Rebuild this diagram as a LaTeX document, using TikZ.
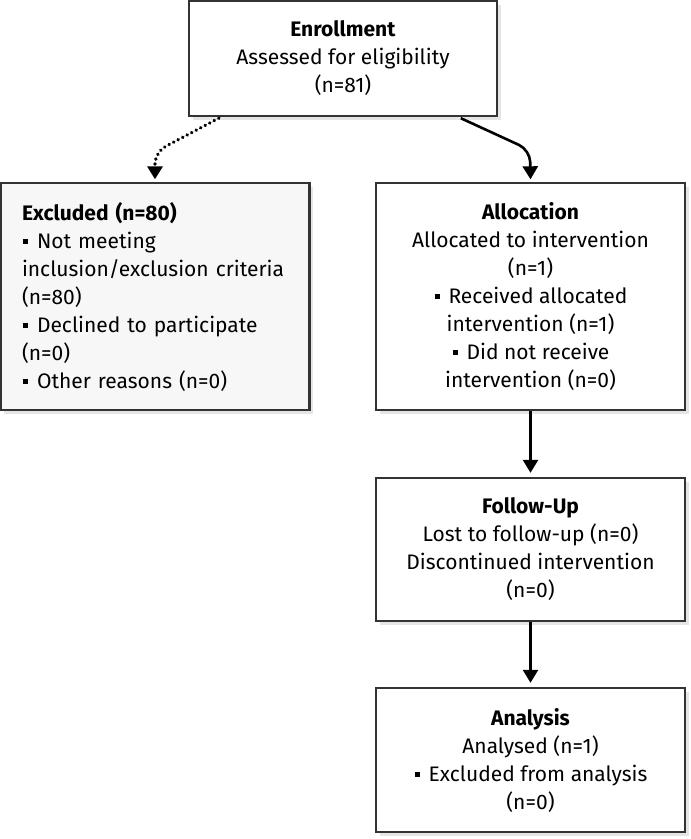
\documentclass[tikz,border=0pt]{standalone}
\usepackage{fontspec}
\setmainfont{Fira Sans}
\usetikzlibrary{arrows.meta,shadows,calc}
\newcommand{\sqbullet}{\hspace{1pt}\rule[4.5pt]{5pt}{5pt}\hspace{9pt}}
\begin{document}
\begin{tikzpicture}[x=1pt,y=-1pt,
  every node/.style={font=\fontsize{21}{28}\selectfont},
  stage/.style={draw=black!80, line width=2.4pt, fill=white, inner sep=0pt,
    align=center, minimum width=309pt,
    drop shadow={shadow xshift=3.5pt, shadow yshift=-3.5pt, fill=black!10, opacity=1}},
  flow/.style={line width=2.6pt, -{Triangle[width=15pt,length=13pt]}, rounded corners=12pt},
  dotflow/.style={flow, line cap=round, dash pattern=on 0.1pt off 5pt, line width=3.6pt}]
\useasboundingbox (0,0) rectangle (691,839);

% boxes
\node[stage, minimum width=308pt, minimum height=115pt] (enr) at (343,58.5)
  {\textbf{Enrollment}\\Assessed for eligibility\\(n=81)};
\node[stage, fill=black!3, minimum height=227pt, text width=266pt, align=left] (exc) at (155,296.5)
  {\textbf{Excluded (n=80)}\\\sqbullet Not meeting\\inclusion/exclusion criteria\\(n=80)\\\sqbullet Declined to participate\\(n=0)\\\sqbullet Other reasons (n=0)};
\node[stage, minimum height=227pt] (alloc) at (530.5,296.5)
  {\textbf{Allocation}\\Allocated to intervention\\(n=1)\\\sqbullet Received allocated\\intervention (n=1)\\\sqbullet Did not receive\\intervention (n=0)};
\node[stage, minimum height=143pt] (fu) at (530.5,549.5)
  {\textbf{Follow-Up}\\Lost to follow-up (n=0)\\Discontinued intervention\\(n=0)};
\node[stage, minimum height=144pt] (ana) at (530.5,760)
  {\textbf{Analysis}\\Analysed (n=1)\\\sqbullet Excluded from analysis\\(n=0)};

% connectors
\coordinate (dstart) at ($(enr.south west)+(31,1)$);
\coordinate (sstart) at ($(enr.south west)+(273,1)$);
\draw[dotflow] (dstart) -- (155,152) -- ($(exc.north)+(0,-2.5)$);
\draw[flow] (sstart) -- (530,150) -- ($(alloc.north)+(0,-2.5)$);
\draw[flow, shorten >=4pt] (alloc.south) -- (fu.north);
\draw[flow, shorten >=4pt] (fu.south) -- (ana.north);
\end{tikzpicture}
\end{document}
